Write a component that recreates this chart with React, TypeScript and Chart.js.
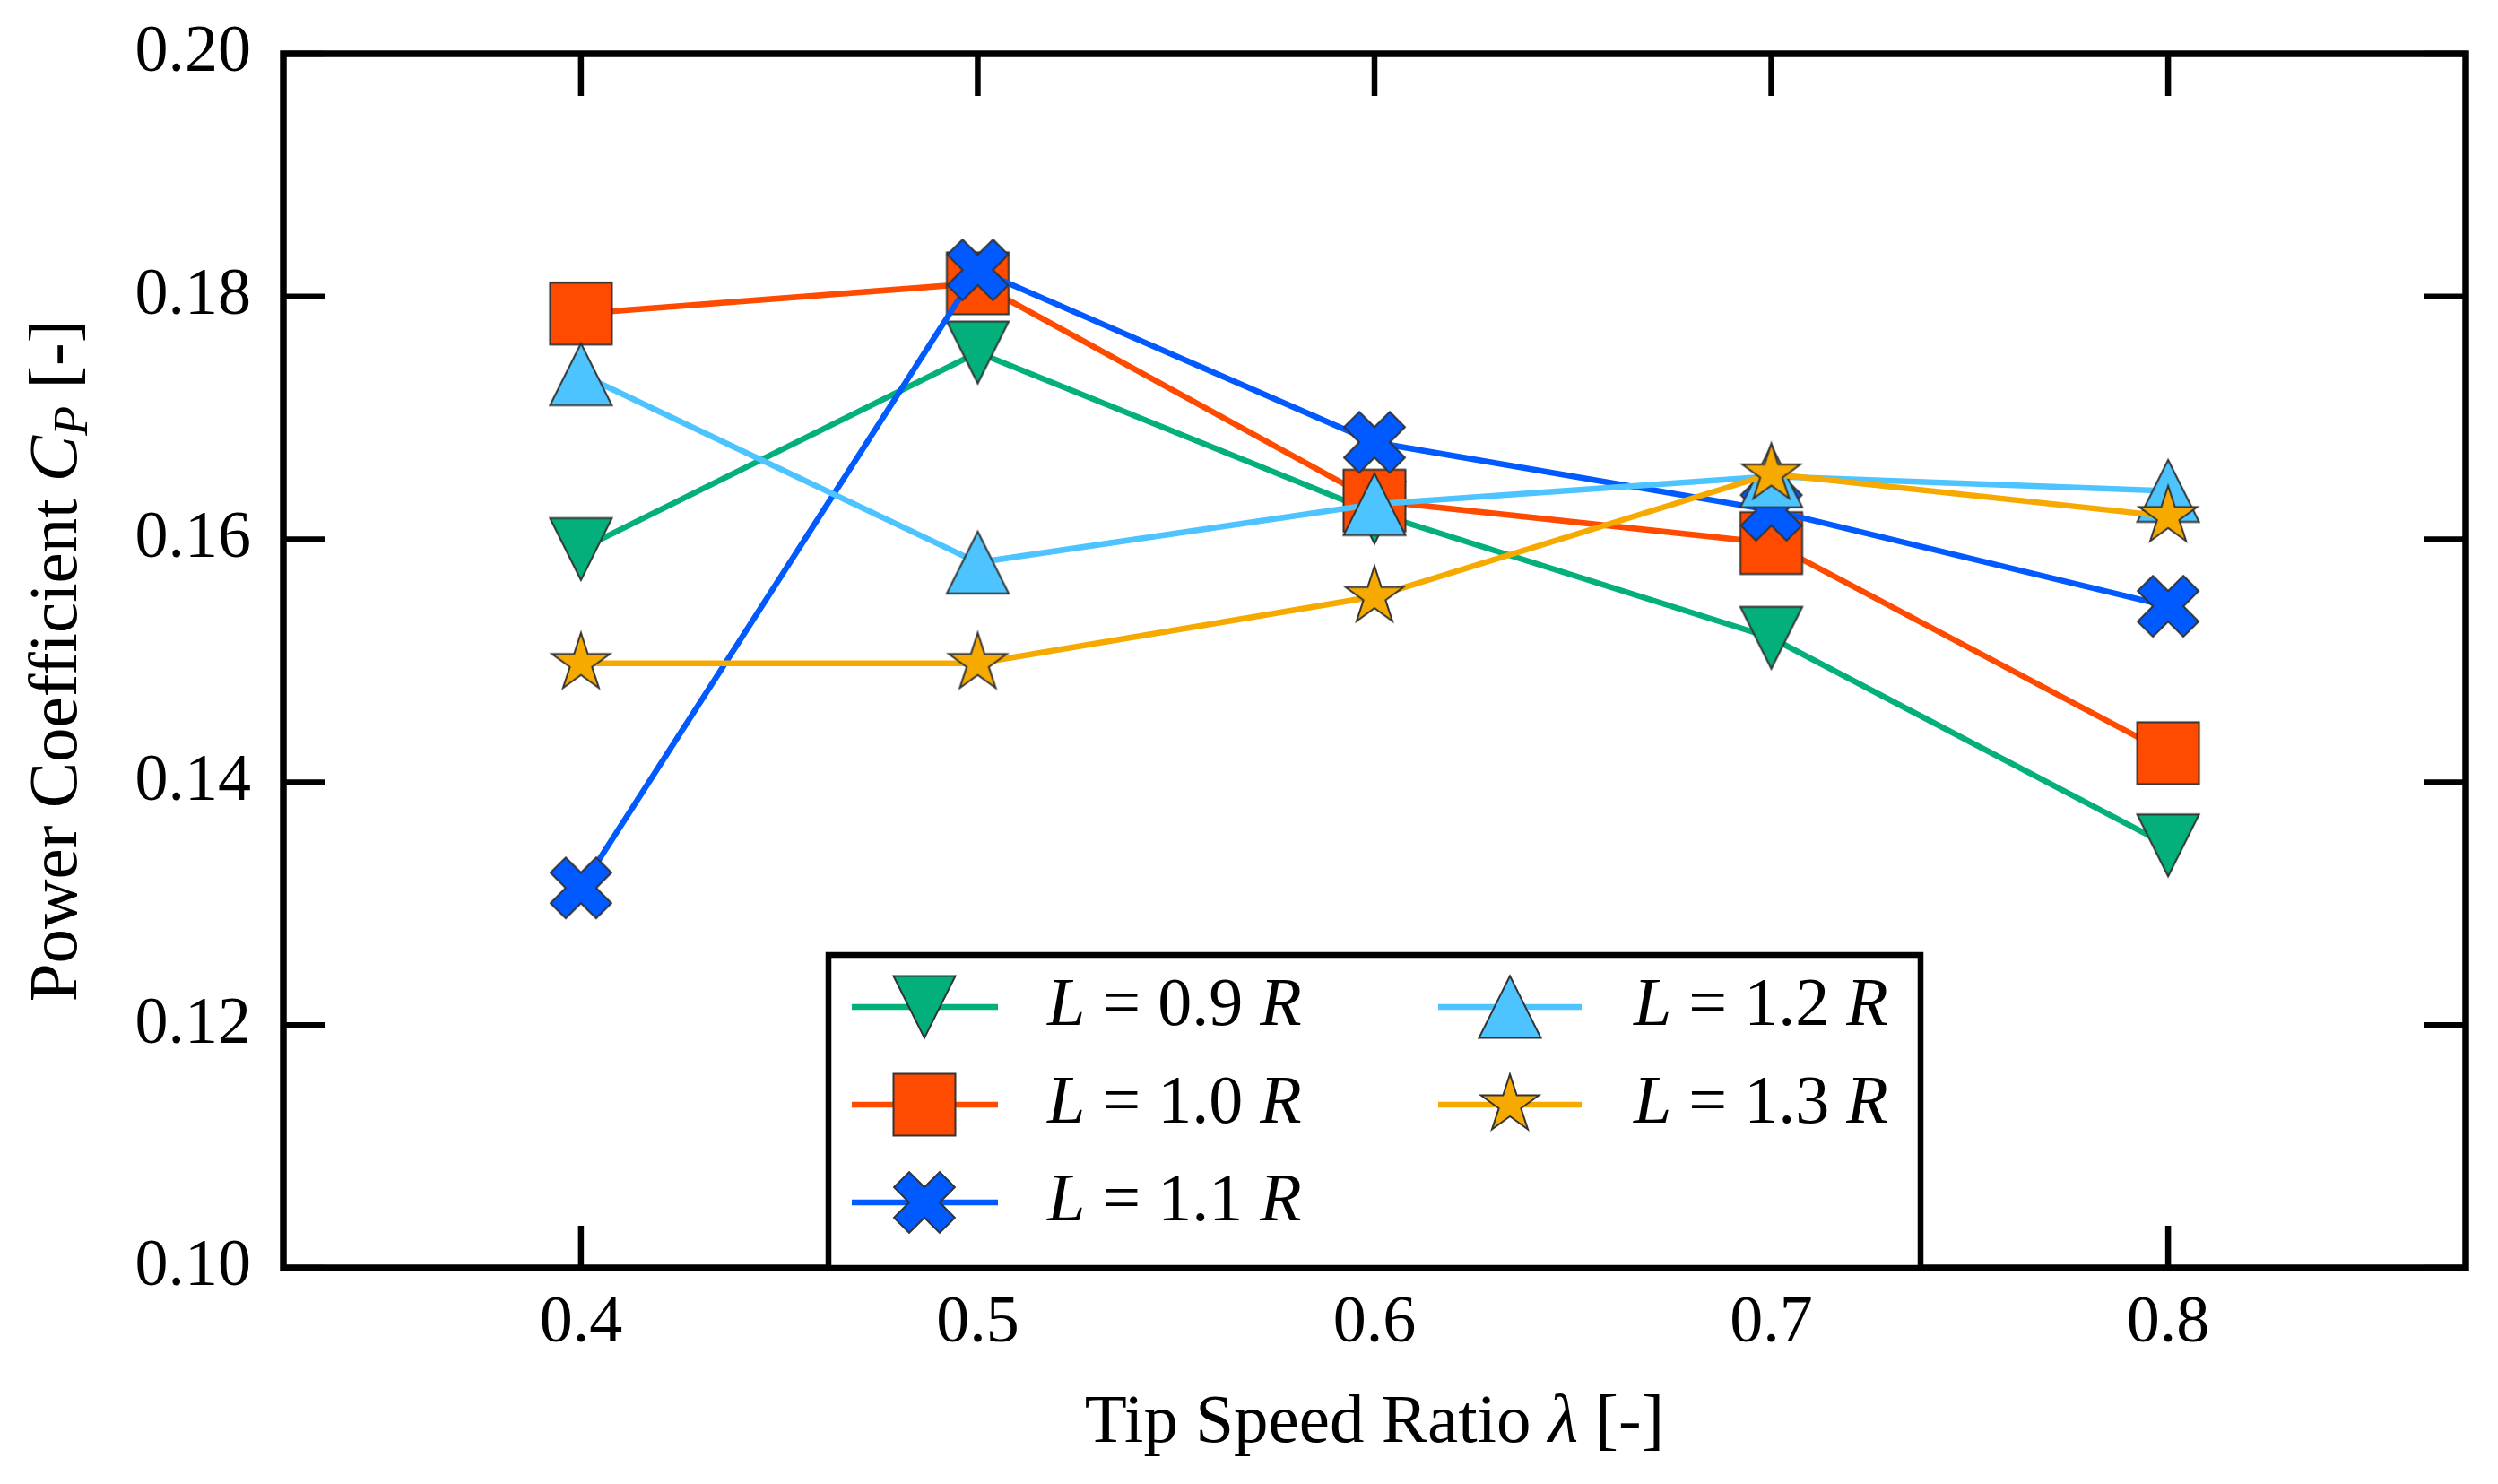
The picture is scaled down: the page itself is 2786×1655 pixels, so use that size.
import { useEffect, useRef } from 'react'
import { Chart, registerables } from 'chart.js'

Chart.register(...registerables)

// Tip speed ratio (x) and power coefficient per arm length L
const tipSpeedRatio = [0.4, 0.5, 0.6, 0.7, 0.8]
const cpL09 = [0.1592, 0.1754, 0.1622, 0.1519, 0.1348]
const cpL10 = [0.1786, 0.1811, 0.1632, 0.1597, 0.1424]
const cpL11 = [0.1313, 0.1822, 0.168, 0.1624, 0.1545]
const cpL12 = [0.1736, 0.1581, 0.1629, 0.1652, 0.164]
const cpL13 = [0.1498, 0.1498, 0.1553, 0.1654, 0.1619]
const lengthLabels = ['0.9', '1.0', '1.1', '1.2', '1.3']

const xTicks = [0.4, 0.5, 0.6, 0.7, 0.8]
const yTicks = [0.1, 0.12, 0.14, 0.16, 0.18, 0.2]

const FONT = '"Liberation Serif", "Times New Roman", serif'

type Shape = 'triDown' | 'square' | 'x' | 'triUp' | 'star'

function makeMarker(shape: Shape, fill: string) {
  const c = document.createElement('canvas')
  c.width = 80
  c.height = 80
  const g = c.getContext('2d')!
  g.translate(40, 40)
  g.beginPath()
  const h = 34.5
  if (shape === 'triDown') {
    g.moveTo(-h, -h)
    g.lineTo(h, -h)
    g.lineTo(0, h)
  } else if (shape === 'triUp') {
    g.moveTo(0, -h)
    g.lineTo(h, h)
    g.lineTo(-h, h)
  } else if (shape === 'square') {
    g.rect(-h, -h, 2 * h, 2 * h)
  } else if (shape === 'x') {
    const u = 12
    const pts = [[-1, -3], [1, -3], [1, -1], [3, -1], [3, 1], [1, 1], [1, 3], [-1, 3], [-1, 1], [-3, 1], [-3, -1], [-1, -1]]
    pts.forEach(([px, py], i) => {
      const rx = ((px - py) / Math.SQRT2) * u
      const ry = ((px + py) / Math.SQRT2) * u
      if (i === 0) g.moveTo(rx, ry)
      else g.lineTo(rx, ry)
    })
  } else {
    const outer = 34
    const inner = outer * 0.381966
    for (let i = 0; i < 10; i++) {
      const r = i % 2 === 0 ? outer : inner
      const a = -Math.PI / 2 + (i * Math.PI) / 5
      const px = Math.cos(a) * r
      const py = Math.sin(a) * r
      if (i === 0) g.moveTo(px, py)
      else g.lineTo(px, py)
    }
  }
  g.closePath()
  g.fillStyle = fill
  g.fill()
  g.lineWidth = 2
  g.strokeStyle = '#333'
  g.lineJoin = 'miter'
  g.stroke()
  return c
}

type Run = { text: string; italic?: boolean; scale?: number; dy?: number }

function runFont(r: Run, size: number) {
  return `${r.italic ? 'italic ' : ''}${Math.round(size * (r.scale ?? 1))}px ${FONT}`
}

function measureRuns(ctx: CanvasRenderingContext2D, runs: Run[], size: number) {
  let w = 0
  for (const r of runs) {
    ctx.font = runFont(r, size)
    w += ctx.measureText(r.text).width
  }
  return w
}

function drawRuns(ctx: CanvasRenderingContext2D, runs: Run[], x: number, y: number, size: number) {
  let cx = x
  ctx.textAlign = 'left'
  ctx.textBaseline = 'alphabetic'
  ctx.fillStyle = '#000'
  for (const r of runs) {
    ctx.font = runFont(r, size)
    ctx.fillText(r.text, cx, y + (r.dy ?? 0) * size)
    cx += ctx.measureText(r.text).width
  }
}

export default function App() {
  const canvasRef = useRef<HTMLCanvasElement>(null)
  const chartRef = useRef<Chart | null>(null)

  useEffect(() => {
    if (!canvasRef.current) return

    const series = [
      { values: cpL09, color: '#03AF7A', shape: 'triDown' as Shape },
      { values: cpL10, color: '#FF4B00', shape: 'square' as Shape },
      { values: cpL11, color: '#005AFF', shape: 'x' as Shape },
      { values: cpL12, color: '#4DC4FF', shape: 'triUp' as Shape },
      { values: cpL13, color: '#F6AA00', shape: 'star' as Shape },
    ].map((s, i) => ({ ...s, label: lengthLabels[i], marker: makeMarker(s.shape, s.color) }))

    // frame with inward ticks on all four sides
    const framePlugin = {
      id: 'frame',
      afterDatasetsDraw(chart: Chart) {
        const { ctx, chartArea: a, scales } = chart
        const tl = 47
        ctx.save()
        ctx.strokeStyle = '#000'
        ctx.lineWidth = 6.5
        ctx.lineCap = 'butt'
        ctx.beginPath()
        for (const v of xTicks) {
          const px = scales.x.getPixelForValue(v)
          ctx.moveTo(px, a.bottom)
          ctx.lineTo(px, a.bottom - tl)
          ctx.moveTo(px, a.top)
          ctx.lineTo(px, a.top + tl)
        }
        for (const v of yTicks) {
          const py = scales.y.getPixelForValue(v)
          ctx.moveTo(a.left, py)
          ctx.lineTo(a.left + tl, py)
          ctx.moveTo(a.right, py)
          ctx.lineTo(a.right - tl, py)
        }
        ctx.stroke()
        ctx.lineWidth = 7.5
        ctx.strokeRect(a.left, a.top, a.right - a.left, a.bottom - a.top)
        ctx.restore()
      },
    }

    // legend box inside the plot, axis titles with italic symbols
    const annotatePlugin = {
      id: 'annotate',
      afterDraw(chart: Chart) {
        const { ctx, chartArea: a } = chart
        ctx.save()

        // legend
        const box = { left: 924, top: 1065, right: 2142, bottom: a.bottom }
        ctx.fillStyle = '#fff'
        ctx.fillRect(box.left, box.top, box.right - box.left, box.bottom - box.top)
        ctx.strokeStyle = '#000'
        ctx.lineWidth = 6.5
        ctx.strokeRect(box.left, box.top, box.right - box.left, box.bottom - box.top)

        const rows = [1123, 1232, 1341]
        const cols = [
          { lineFrom: 950, lineTo: 1113, marker: 1031, text: 1168 },
          { lineFrom: 1604, lineTo: 1764, marker: 1684, text: 1822 },
        ]
        series.forEach((s, i) => {
          const col = cols[Math.floor(i / 3)]
          const y = rows[i % 3]
          ctx.strokeStyle = s.color
          ctx.lineWidth = 6.5
          ctx.beginPath()
          ctx.moveTo(col.lineFrom, y)
          ctx.lineTo(col.lineTo, y)
          ctx.stroke()
          ctx.drawImage(s.marker, col.marker - s.marker.width / 2, y - s.marker.height / 2)
          drawRuns(ctx, [
            { text: 'L', italic: true },
            { text: ` = ${s.label} ` },
            { text: 'R', italic: true },
          ], col.text, y + 20, 76)
        })

        // x title
        const xRuns: Run[] = [
          { text: 'Tip Speed Ratio ' },
          { text: 'λ', italic: true },
          { text: ' [-]' },
        ]
        const xw = measureRuns(ctx, xRuns, 77)
        drawRuns(ctx, xRuns, (a.left + a.right) / 2 - xw / 2, 1608, 77)

        // y title
        const yRuns: Run[] = [
          { text: 'Power Coefficient ' },
          { text: 'C', italic: true },
          { text: 'P', italic: true, scale: 0.7, dy: 0.15 },
          { text: ' [-]' },
        ]
        const yw = measureRuns(ctx, yRuns, 77)
        ctx.translate(85, (a.top + a.bottom) / 2)
        ctx.rotate(-Math.PI / 2)
        drawRuns(ctx, yRuns, -yw / 2, 0, 77)

        ctx.restore()
      },
    }

    const tickFont = { family: FONT, size: 74 }

    chartRef.current = new Chart(canvasRef.current, {
      type: 'line',
      data: {
        datasets: series.map((s, i) => ({
          label: `L = ${s.label} R`,
          data: tipSpeedRatio.map((x, j) => ({ x, y: s.values[j] })),
          borderColor: s.color,
          backgroundColor: s.color,
          borderWidth: 6.5,
          tension: 0,
          pointStyle: s.marker,
          pointRadius: 35,
          pointBackgroundColor: s.color,
          pointBorderColor: '#333',
          clip: false as any,
          order: series.length - i,
        })),
      },
      options: {
        animation: false,
        responsive: false,
        devicePixelRatio: 1,
        events: [],
        layout: { padding: { top: 60, right: 36, bottom: 0, left: 0 }, autoPadding: false },
        plugins: {
          legend: { display: false },
          tooltip: { enabled: false },
        },
        scales: {
          x: {
            type: 'linear',
            min: 0.325,
            max: 0.875,
            grid: { display: false, drawTicks: false },
            border: { display: false },
            afterBuildTicks: (scale: any) => {
              scale.ticks = xTicks.map(v => ({ value: v }))
            },
            afterFit: (scale: any) => {
              scale.height = 241
              scale.paddingLeft = 0
              scale.paddingRight = 0
            },
            ticks: {
              font: tickFont,
              color: '#000',
              padding: 18,
              maxRotation: 0,
              autoSkip: false,
              callback: (v: any) => Number(v).toFixed(1),
            },
          },
          y: {
            type: 'linear',
            min: 0.1,
            max: 0.2,
            grid: { display: false, drawTicks: false },
            border: { display: false },
            afterBuildTicks: (scale: any) => {
              scale.ticks = yTicks.map(v => ({ value: v }))
            },
            afterFit: (scale: any) => {
              scale.width = 316
              scale.paddingTop = 0
              scale.paddingBottom = 0
            },
            ticks: {
              font: tickFont,
              color: '#000',
              padding: 36,
              autoSkip: false,
              callback: (v: any) => Number(v).toFixed(2),
            },
          },
        },
      },
      plugins: [framePlugin, annotatePlugin],
    })

    return () => {
      if (chartRef.current) {
        chartRef.current.destroy()
        chartRef.current = null
      }
    }
  }, [])

  return (
    <div style={{ position: 'fixed', left: 0, top: 0, width: 2786, height: 1655, background: '#fff' }}>
      <canvas ref={canvasRef} width={2786} height={1655} style={{ display: 'block' }} />
    </div>
  )
}
